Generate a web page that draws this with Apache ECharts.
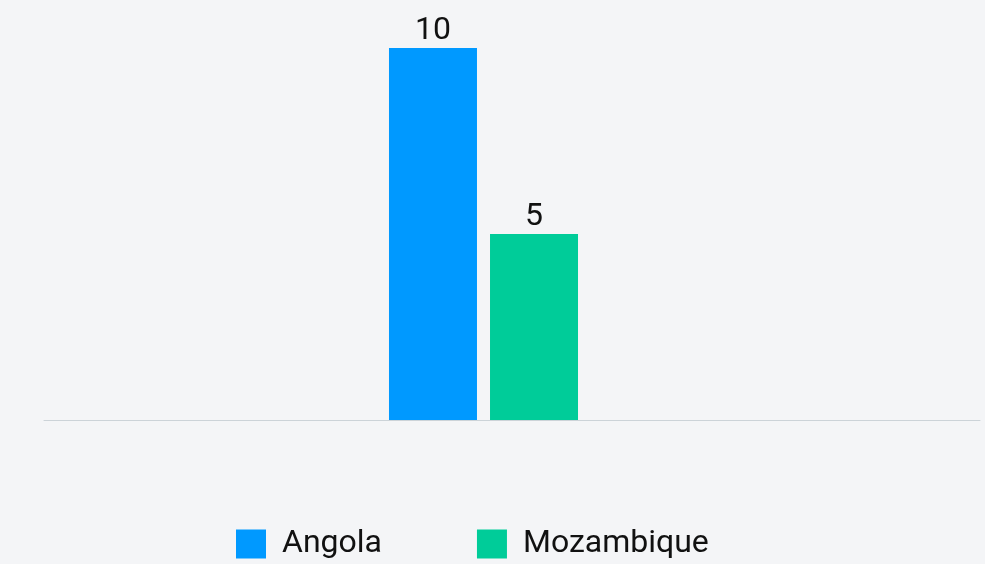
<!DOCTYPE html>
<html>
<head>
<meta charset="utf-8">
<script src="https://cdn.jsdelivr.net/npm/echarts@6/dist/echarts.min.js"></script>
<style>
  html, body { margin: 0; padding: 0; background: #f4f5f7; }
  #chart { width: 985px; height: 564px; }
</style>
</head>
<body>
<div id="chart"></div>
<script>
// Chart data
const categories = [''];
const seriesNames = ['Angola', 'Mozambique'];
const angolaValues = [10];
const mozambiqueValues = [5];
const seriesColors = ['#0099ff', '#00cc99'];

const chart = echarts.init(document.getElementById('chart'), null, { renderer: 'canvas' });

const labelStyle = {
  show: true,
  position: 'top',
  distance: 1,
  color: '#111111',
  fontFamily: 'Roboto',
  fontSize: 32
};

chart.setOption({
  backgroundColor: '#f4f5f7',
  animation: false,
  grid: [
    { left: 44, right: 62, top: 48, bottom: 144 },
    { left: 44, right: 5, top: 48, bottom: 144 }
  ],
  legend: {
    left: 236,
    bottom: 4,
    padding: 0,
    itemWidth: 30,
    itemHeight: 29,
    itemGap: 95,
    icon: 'rect',
    textStyle: { fontFamily: 'Roboto', fontSize: 32, color: '#111111', padding: [0, 0, 0, 11] },
    data: seriesNames
  },
  xAxis: [
    {
      gridIndex: 0,
      type: 'category',
      data: categories,
      axisLine: { show: false },
      axisTick: { show: false },
      axisLabel: { show: false }
    },
    {
      gridIndex: 1,
      type: 'category',
      data: categories,
      axisLine: { show: true, lineStyle: { color: '#ccd3d8', width: 1 } },
      axisTick: { show: false },
      axisLabel: { show: false }
    }
  ],
  yAxis: [
    {
      gridIndex: 0,
      type: 'value',
      min: 0,
      max: 10,
      show: false
    },
    {
      gridIndex: 1,
      type: 'value',
      min: 0,
      max: 10,
      show: false
    }
  ],
  series: [
    {
      name: seriesNames[0],
      type: 'bar',
      data: angolaValues,
      barWidth: 88,
      barGap: '14.8%',
      itemStyle: { color: seriesColors[0] },
      label: labelStyle
    },
    {
      name: seriesNames[1],
      type: 'bar',
      data: mozambiqueValues,
      barWidth: 88,
      barGap: '14.8%',
      itemStyle: { color: seriesColors[1] },
      label: labelStyle
    }
  ]
});
</script>
</body>
</html>
